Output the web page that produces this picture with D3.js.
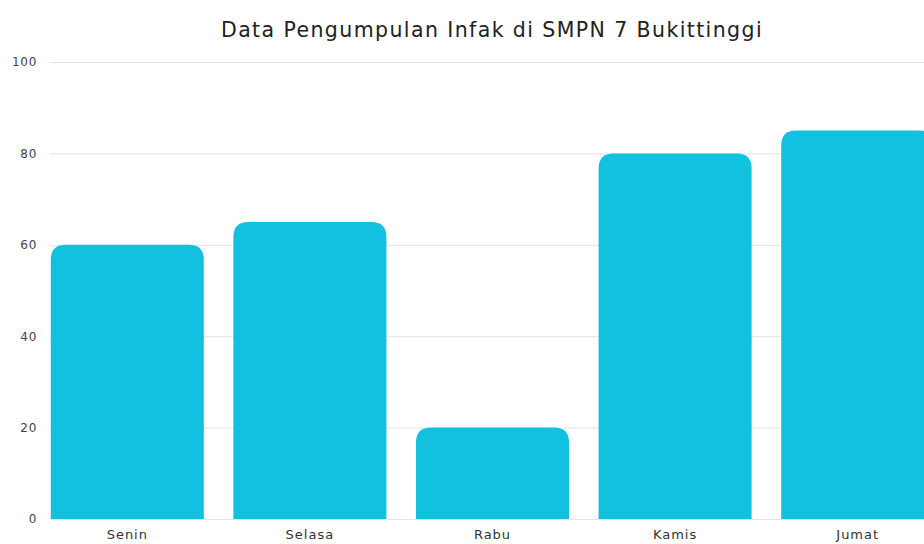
<!DOCTYPE html>
<html><head><meta charset="utf-8">
<script src="https://cdn.jsdelivr.net/npm/d3@7"></script>
<style>body{margin:0;background:#fff}svg{display:block}</style>
</head><body>
<svg id="c" width="924" height="544"></svg>
<script>
const categories = ["Senin","Selasa","Rabu","Kamis","Jumat"];
const values = [60, 65, 20, 80, 85];
const yTicks = [0, 20, 40, 60, 80, 100];
const title = "Data Pengumpulan Infak di SMPN 7 Bukittinggi";

const W = 924, H = 544;
const svg = d3.select("#c");
const font = "'DejaVu Sans', 'Noto Sans', sans-serif";

const x = d3.scaleBand().domain(categories).range([36, 949]).paddingInner(0.162).paddingOuter(0.081);
const y = d3.scaleLinear().domain([0, 100]).range([519, 62]);

svg.append("text").attr("x", 492).attr("y", 37).attr("text-anchor", "middle")
  .attr("font-family", font).attr("font-size", 20.5).attr("letter-spacing", 1.4)
  .attr("fill", "#222").text(title);

const yAxis = svg.append("g").attr("transform", "translate(50,0)")
  .call(d3.axisLeft(y).tickValues(yTicks).tickSize(-874).tickPadding(13).tickFormat(d3.format("d")));
yAxis.select(".domain").remove();
yAxis.selectAll(".tick line").attr("stroke", "#e4e4e4");
yAxis.selectAll(".tick text").attr("font-family", font).attr("font-size", 12).attr("letter-spacing", 0.7).attr("fill", "#444");

const r = 15;
svg.append("g").selectAll("path").data(values).join("path")
  .attr("fill", "#12C0E0")
  .attr("d", (v, i) => {
    const x0 = x(categories[i]), w = x.bandwidth(), y0 = y(v), yb = y(0);
    const rr = Math.min(r, (yb - y0));
    return `M${x0},${yb}V${y0 + rr}Q${x0},${y0} ${x0 + rr},${y0}H${x0 + w - rr}Q${x0 + w},${y0} ${x0 + w},${y0 + rr}V${yb}Z`;
  });

const xAxis = svg.append("g").attr("transform", `translate(0,${y(0)})`)
  .call(d3.axisBottom(x).tickSize(0).tickPadding(11));
xAxis.select(".domain").remove();
xAxis.selectAll(".tick text").attr("font-family", font).attr("font-size", 13).attr("letter-spacing", 1).attr("fill", "#333");
</script>
</body></html>
